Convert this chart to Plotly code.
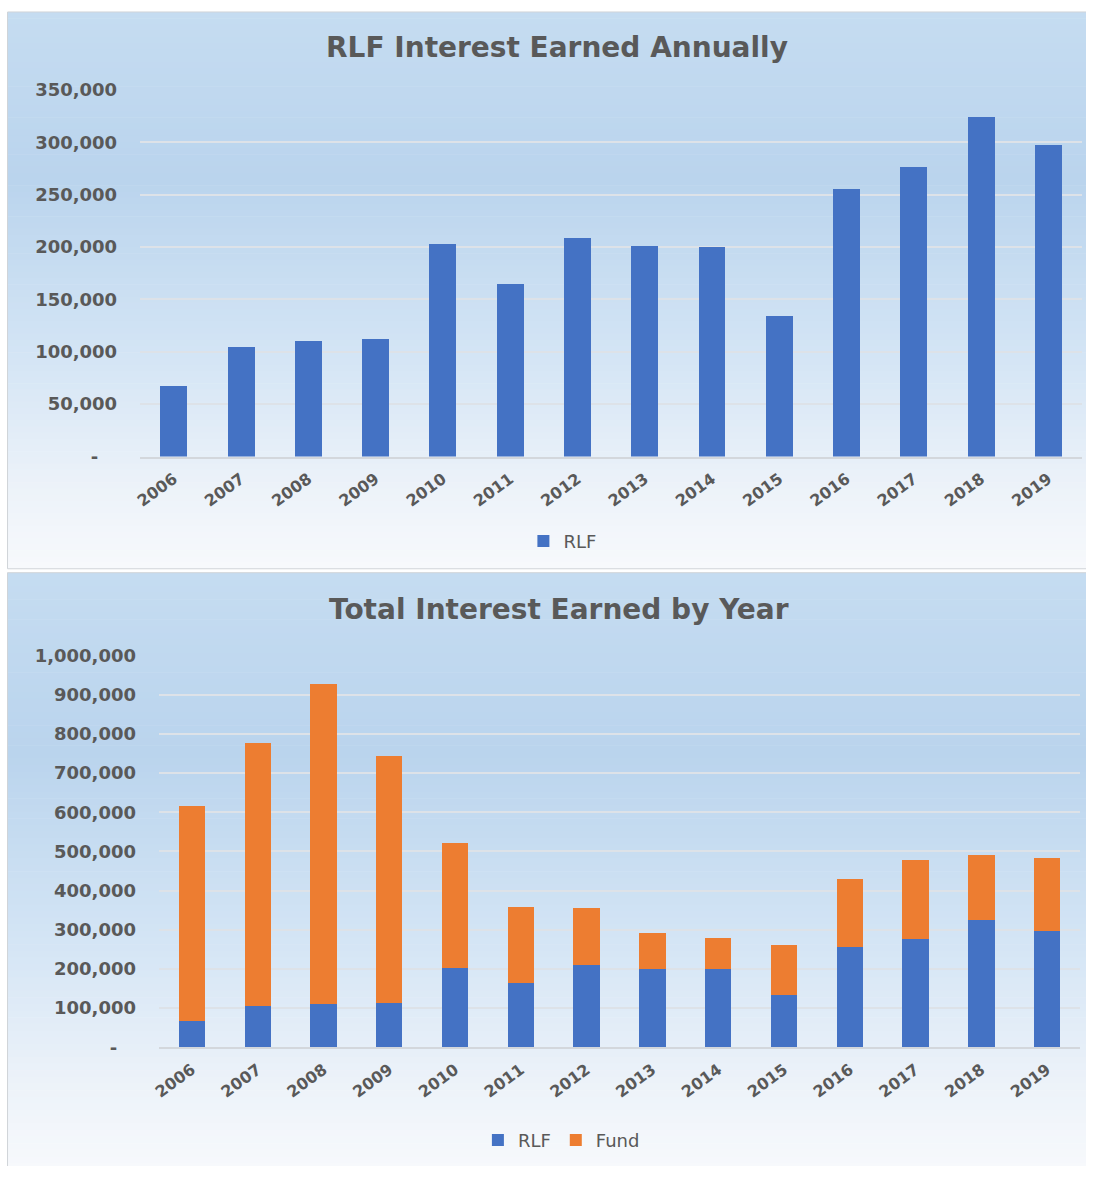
import plotly.graph_objects as go

# ---------------- data ----------------
years = ["2006", "2007", "2008", "2009", "2010", "2011", "2012",
         "2013", "2014", "2015", "2016", "2017", "2018", "2019"]
rlf = [67000, 105000, 110000, 112000, 203000, 165000, 209000,
       201000, 200000, 134000, 255000, 276000, 324000, 297000]
fund = [549000, 671000, 818000, 631000, 319000, 193000, 146000,
        90000, 80000, 126000, 174000, 202000, 168000, 186000]

top_tickvals = [0, 50000, 100000, 150000, 200000, 250000, 300000, 350000]
top_ticktext = ["-", "50,000", "100,000", "150,000", "200,000",
                "250,000", "300,000", "350,000"]
bot_tickvals = [0, 100000, 200000, 300000, 400000, 500000,
                600000, 700000, 800000, 900000, 1000000]
bot_ticktext = ["-", "100,000", "200,000", "300,000", "400,000", "500,000",
                "600,000", "700,000", "800,000", "900,000", "1,000,000"]

top_title = "RLF Interest Earned Annually"
bot_title = "Total Interest Earned by Year"

# ---------------- styling ----------------
PAGE_M = 8                      # default body margin of the html page
W, H = 1086, 1166               # leave slack so the page never scrolls
BLUE = "#4472c4"
ORANGE = "#ed7d31"
TXT = "#595959"
GRID = "#dde2e8"
FONT = "DejaVu Sans"


def px_x(x):
    return (x - PAGE_M) / W


def px_y(y):
    return 1 - (y - PAGE_M) / H


stops = [(0.0, (197, 220, 241)), (0.3, (186, 212, 237)), (0.62, (212, 229, 245)),
         (0.85, (236, 242, 249)), (1.0, (247, 249, 252))]


def grad(t):
    for (t0, c0), (t1, c1) in zip(stops[:-1], stops[1:]):
        if t0 <= t <= t1:
            f = (t - t0) / (t1 - t0)
            c = [round(a + (b - a) * f) for a, b in zip(c0, c1)]
            return "rgb(%d,%d,%d)" % tuple(c)
    return "rgb(%d,%d,%d)" % stops[-1][1]


shapes = []
panels = [(8, 9, 1109, 576), (8, 580, 1109, 1188)]
N = 90
for (x0, y0, x1, y1) in panels:
    h = (y1 - y0) / N
    for i in range(N):
        ya = y0 + i * h
        yb = y0 + (i + 1) * h + 0.6
        shapes.append(dict(type="rect", xref="paper", yref="paper", layer="below",
                           x0=px_x(x0), x1=px_x(x1), y0=px_y(min(yb, y1)), y1=px_y(ya),
                           line=dict(width=0), fillcolor=grad((i + 0.5) / N)))
    shapes.append(dict(type="rect", xref="paper", yref="paper", layer="below",
                       x0=px_x(x0) + 0.0005, x1=px_x(x1 + 2), y0=px_y(y1), y1=px_y(y0),
                       line=dict(width=1, color="#d0d4d8"), fillcolor="rgba(0,0,0,0)"))

fig = go.Figure()
fig.add_trace(go.Bar(x=years, y=rlf, name="RLF", marker=dict(color=BLUE, line=dict(width=0)),
                     xaxis="x", yaxis="y", legend="legend"))
fig.add_trace(go.Bar(x=years, y=rlf, name="RLF", marker=dict(color=BLUE, line=dict(width=0)),
                     xaxis="x2", yaxis="y2", legend="legend2"))
fig.add_trace(go.Bar(x=years, y=fund, name="Fund", marker=dict(color=ORANGE, line=dict(width=0)),
                     xaxis="x2", yaxis="y2", legend="legend2"))

xcommon = dict(type="category", showgrid=False, showline=True, linecolor="#d3d7dc",
               linewidth=2, ticks="", tickangle=-36, ticklabelstandoff=5,
               tickfont=dict(family=FONT, size=16, color=TXT, weight="bold"))
ycommon = dict(showgrid=True, gridcolor=GRID, gridwidth=2, zeroline=False,
               showline=False, ticks="", ticklabelstandoff=22,
               tickfont=dict(family=FONT, size=18, color=TXT, weight="bold"))

fig.update_layout(
    width=W, height=H,
    margin=dict(l=0, r=0, t=0, b=0),
    paper_bgcolor="white",
    plot_bgcolor="rgba(0,0,0,0)",
    barmode="stack",
    bargap=0.6,
    showlegend=True,
    shapes=shapes,
    xaxis=dict(xcommon, domain=[px_x(142), px_x(1090)], anchor="y"),
    yaxis=dict(ycommon, domain=[px_y(461.7), px_y(88.4)], anchor="x",
               range=[0, 350000], tickvals=top_tickvals,
               ticktext=[t if t != "-" else "-\u00a0\u00a0\u00a0" for t in top_ticktext]),
    xaxis2=dict(xcommon, domain=[px_x(161), px_x(1088)], anchor="y2"),
    yaxis2=dict(ycommon, domain=[px_y(1063.3), px_y(664.3)], anchor="x2",
                range=[0, 1000000], tickvals=bot_tickvals,
                ticktext=[t if t != "-" else "-\u00a0\u00a0\u00a0" for t in bot_ticktext]),
    legend=dict(x=px_x(567), y=px_y(548), xanchor="center", yanchor="middle",
                orientation="h", bgcolor="rgba(0,0,0,0)", traceorder="normal",
                font=dict(family=FONT, size=18, color=TXT)),
    legend2=dict(x=px_x(566), y=px_y(1158), xanchor="center", yanchor="middle",
                 orientation="h", bgcolor="rgba(0,0,0,0)", traceorder="normal",
                 font=dict(family=FONT, size=18, color=TXT)),
    annotations=[
        dict(text=top_title, x=px_x(562), y=px_y(45), xref="paper", yref="paper",
             xanchor="center", yanchor="middle", showarrow=False,
             font=dict(family=FONT, size=28, color=TXT, weight="bold")),
        dict(text=bot_title, x=px_x(564), y=px_y(617), xref="paper", yref="paper",
             xanchor="center", yanchor="middle", showarrow=False,
             font=dict(family=FONT, size=28, color=TXT, weight="bold")),
    ],
)

fig.write_html("out.html")
